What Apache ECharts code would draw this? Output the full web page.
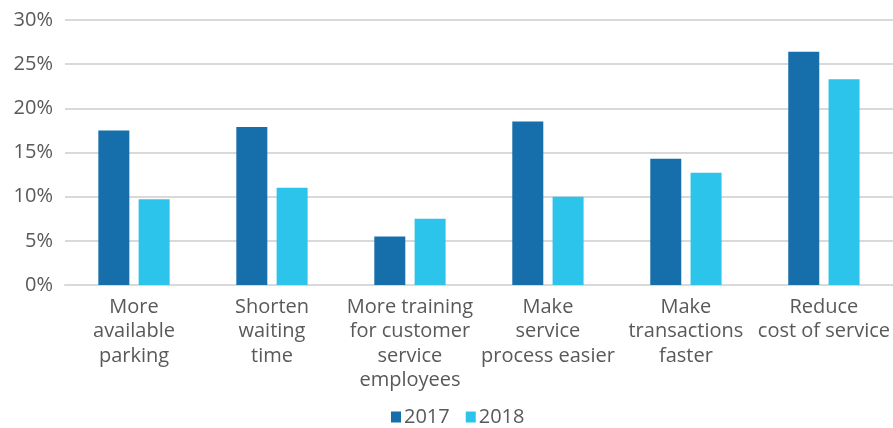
<!DOCTYPE html>
<html>
<head>
<meta charset="utf-8">
<script src="https://cdn.jsdelivr.net/npm/echarts@6/dist/echarts.min.js"></script>
<style>
  html, body { margin: 0; padding: 0; background: #fff; }
  #chart { width: 893px; height: 428px; }
</style>
</head>
<body>
<div id="chart"></div>
<script>
// 分类与数值
const categories = [
  'More\navailable\nparking',
  'Shorten\nwaiting\ntime',
  'More training\nfor customer\nservice\nemployees',
  'Make\nservice\nprocess easier',
  'Make\ntransactions\nfaster',
  'Reduce\ncost of service'
];
const values2017 = [17.5, 17.9, 5.5, 18.5, 14.3, 26.4];
const values2018 = [9.7, 11.0, 7.5, 10.0, 12.7, 23.3];
const yTicks = [0, 5, 10, 15, 20, 25, 30];

const textColor = '#595959';
const fontFamily = '"Open Sans", sans-serif';

const chart = echarts.init(document.getElementById('chart'));
chart.setOption({
  backgroundColor: '#fff',
  animation: false,
  textStyle: { fontFamily: fontFamily },
  legend: {
    data: ['2017', '2018'],
    top: 402, left: 386,
    icon: 'rect', itemWidth: 10, itemHeight: 11, itemGap: 16,
    textStyle: { color: textColor, fontSize: 20, fontFamily: fontFamily, padding: [0, 0, 0, -2] }
  },
  grid: { left: 65, right: 0, top: 20, bottom: 143 },
  xAxis: {
    type: 'category',
    data: categories,
    axisLine: { show: true, lineStyle: { color: '#d9d9d9', width: 2 } },
    axisTick: { show: false },
    axisLabel: {
      color: textColor, fontSize: 20, lineHeight: 24.5, margin: 10,
      fontFamily: fontFamily, interval: 0
    }
  },
  yAxis: {
    type: 'value',
    min: yTicks[0], max: yTicks[yTicks.length - 1], interval: 5,
    axisLine: { show: false },
    axisTick: { show: false },
    splitLine: { lineStyle: { color: '#d9d9d9', width: 2 } },
    axisLabel: {
      color: textColor, fontSize: 20, margin: 12, fontFamily: fontFamily,
      formatter: v => v + '%'
    }
  },
  series: [
    {
      name: '2017', type: 'bar', data: values2017,
      barWidth: 31, barGap: '30%',
      itemStyle: { color: '#166fab' }
    },
    {
      name: '2018', type: 'bar', data: values2018,
      barWidth: 31,
      itemStyle: { color: '#2dc4ec' }
    }
  ]
});
</script>
</body>
</html>
